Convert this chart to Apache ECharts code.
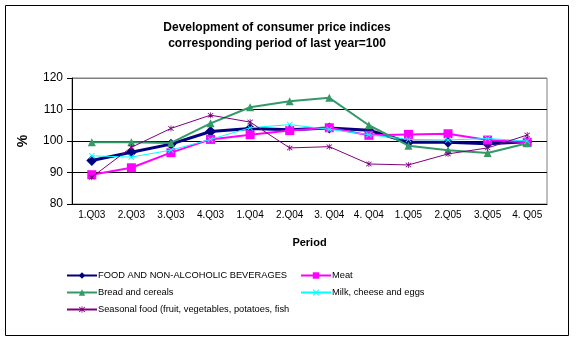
<!DOCTYPE html>
<html><head><meta charset="utf-8">
<script src="https://cdn.jsdelivr.net/npm/echarts@6/dist/echarts.min.js"></script>
<style>html,body{margin:0;padding:0;background:#fff}#c{width:577px;height:340px}</style>
</head><body><div id="c"></div>
<script>
var categories = ['1.Q03','2.Q03','3.Q03','4.Q03','1.Q04','2.Q04','3. Q04','4. Q04','1.Q05','2.Q05','3.Q05','4. Q05'];
var yTicks = [80, 90, 100, 110, 120];
var seriesNames = ['FOOD AND NON-ALCOHOLIC BEVERAGES','Meat','Bread and cereals','Milk, cheese and eggs','Seasonal food (fruit, vegetables, potatoes, fish'];
var food     = [93.8, 96.4, 99.0, 103.0, 104.0, 103.6, 104.1, 103.4, 99.6, 99.6, 99.1, 99.8];
var meat     = [89.3, 91.5, 96.3, 100.5, 102.0, 103.3, 104.2, 101.8, 102.1, 102.3, 100.3, 99.6];
var bread    = [99.6, 99.6, 99.4, 105.6, 110.7, 112.6, 113.7, 105.0, 98.5, 97.1, 96.2, 99.3];
var milk     = [95.3, 94.9, 97.1, 100.5, 104.2, 105.2, 103.7, 102.0, 100.5, 100.3, 100.8, 100.0];
var seasonal = [88.5, 98.0, 104.0, 108.2, 106.0, 97.8, 98.2, 92.7, 92.4, 95.9, 97.8, 101.9];

var FONT = 'Liberation Sans, Arial, sans-serif';
var xPath = 'path://M0,1L1,0L5,4L9,0L10,1L6,5L10,9L9,10L5,6L1,10L0,9L4,5Z';
var starPath = 'path://M0,1L1,0L5,4L9,0L10,1L6,5L10,9L9,10L5,6L1,10L0,9L4,5Z M4.4,-1L5.6,-1L5.6,11L4.4,11Z';

var specs = [
  {data: food, color: '#000080', width: 3, symbol: 'diamond', size: 11},
  {data: meat, color: '#FF00FF', width: 2, symbol: 'rect', size: 9},
  {data: bread, color: '#339966', width: 2, symbol: 'triangle', size: 8},
  {data: milk, color: '#00FFFF', width: 1, symbol: xPath, size: 6},
  {data: seasonal, color: '#800080', width: 1, symbol: starPath, size: 6}
];

var series = specs.map(function (s, i) {
  return {
    name: seriesNames[i], type: 'line', data: s.data,
    symbol: s.symbol, symbolSize: s.size, showSymbol: true,
    lineStyle: {color: s.color, width: s.width},
    itemStyle: {color: s.color},
    animation: false, z: 2 + i
  };
});

var legendPos = [
  {left: 66, top: 271}, {left: 300, top: 271},
  {left: 66, top: 288}, {left: 300, top: 288},
  {left: 66, top: 305}
];
var legends = seriesNames.map(function (n, i) {
  return {
    data: [n], left: legendPos[i].left, top: legendPos[i].top,
    itemWidth: 30, itemHeight: 8, itemGap: 2,
    textStyle: {fontFamily: FONT, fontSize: 9.3, color: '#000', padding: [0,0,0,-4]},
    selectedMode: false, padding: 0
  };
});

var chart = echarts.init(document.getElementById('c'));
chart.setOption({
  backgroundColor: '#fff',
  animation: false,
  title: {
    text: 'Development of consumer price indices\ncorresponding period of last year=100',
    left: 272, top: 15, textAlign: 'center',
    textStyle: {fontFamily: FONT, fontSize: 12, fontWeight: 'bold', color: '#000', lineHeight: 16}
  },
  legend: legends,
  grid: {left: 72, right: 30, top: 78, bottom: 136, show: true, borderColor: '#808080', borderWidth: 1, backgroundColor: 'transparent'},
  xAxis: {
    type: 'category', data: categories, boundaryGap: true,
    name: 'Period', nameLocation: 'middle', nameGap: 33,
    nameTextStyle: {fontFamily: FONT, fontSize: 11, fontWeight: 'bold', color: '#000'},
    axisLine: {lineStyle: {color: '#000', width: 1}},
    axisTick: {inside: true, length: 4, lineStyle: {color: '#000'}, alignWithLabel: false},
    axisLabel: {fontFamily: FONT, fontSize: 10, color: '#000', margin: 6, interval: 0}
  },
  yAxis: {
    type: 'value', min: yTicks[0], max: yTicks[yTicks.length - 1], interval: 10,
    name: '%', nameLocation: 'middle', nameGap: 42, nameRotate: 90,
    nameTextStyle: {fontFamily: FONT, fontSize: 14, fontWeight: 'bold', color: '#000'},
    axisLine: {show: true, lineStyle: {color: '#000', width: 1}},
    axisTick: {show: true, inside: false, length: 5, lineStyle: {color: '#000'}},
    axisLabel: {fontFamily: FONT, fontSize: 12, color: '#000', margin: 9},
    splitLine: {show: true, lineStyle: {color: ['#000', '#000', '#000', '#000', '#808080'], width: 1}}
  },
  graphic: [{
    type: 'rect', shape: {x: 5.5, y: 5.5, width: 563, height: 330},
    style: {fill: 'none', stroke: '#000', lineWidth: 1}, silent: true, z: 100
  }],
  series: series
});
</script></body></html>
